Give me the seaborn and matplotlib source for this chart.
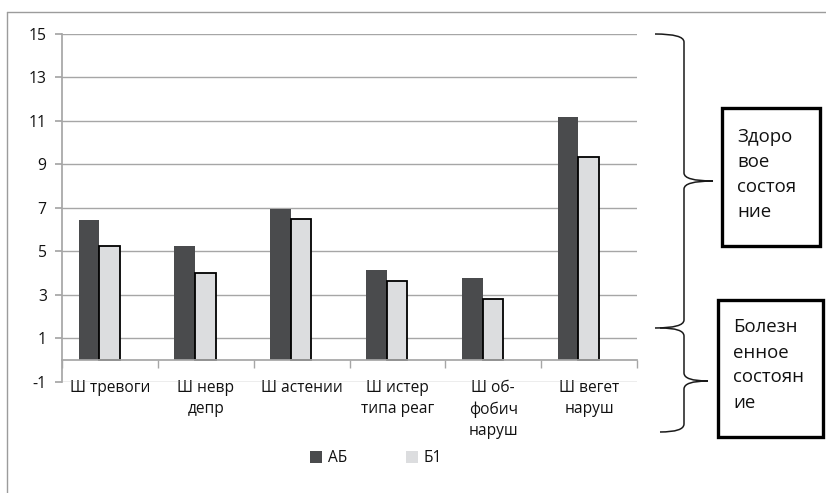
import matplotlib
matplotlib.use("Agg")
import matplotlib.pyplot as plt
from matplotlib.patches import PathPatch, Rectangle, Patch
from matplotlib.path import Path
from matplotlib.lines import Line2D
import numpy as np
import pandas as pd
import seaborn as sns

# --- data ---
categories = ["Ш тревоги", "Ш невр\nдепр", "Ш астении", "Ш истер\nтипа реаг",
              "Ш об-\nфобич\nнаруш", "Ш вегет\nнаруш"]
series_names = ["АБ", "Б1"]
vals_ab = [6.46, 5.24, 6.94, 4.13, 3.80, 11.19]
vals_b1 = [5.25, 4.01, 6.51, 3.63, 2.80, 9.32]
y_ticks = list(range(-1, 16, 2))
box_top_text = "Здоро\nвое\nсостоя\nние"
box_bottom_text = "Болезн\nенное\nсостоян\nие"

W, H = 826, 493
C_AB = "#4a4b4d"
C_B1 = "#dcdddf"
GRID = "#a6a6a6"
TXT = "#111111"

sns.set_theme(style="white")
plt.rcParams["font.family"] = ["Open Sans", "DejaVu Sans"]
plt.rcParams["axes.unicode_minus"] = False

df = pd.DataFrame({
    "cat": categories * 2,
    "val": vals_ab + vals_b1,
    "series": [series_names[0]] * 6 + [series_names[1]] * 6,
})

fig = plt.figure(figsize=(W / 100, H / 100), dpi=100)


def fx(x):
    return x / W


def fy(y):
    return 1 - y / H


ax = fig.add_axes([fx(62), fy(382), fx(637) - fx(62), fy(33.7) - fy(382)])

sns.barplot(data=df, x="cat", y="val", hue="series", order=categories,
            hue_order=series_names, palette=[C_AB, C_B1], width=0.43,
            errorbar=None, legend=False, saturation=1, ax=ax)

# bars sit left of category centre in the original
for p in ax.patches:
    p.set_x(p.get_x() - 0.112)
    fc = p.get_facecolor()
    if fc[0] > 0.5:
        p.set_edgecolor("black")
        p.set_linewidth(1.3)
    else:
        p.set_edgecolor("none")

ax.set_xlim(-0.5, 5.5)
ax.set_ylim(-1, 15)
ax.set_yticks(y_ticks)
ax.set_xlabel("")
ax.set_ylabel("")

# grid & spines
ax.yaxis.grid(True, color=GRID, linewidth=1)
ax.xaxis.grid(False)
ax.set_axisbelow(True)
for s in ["top", "right"]:
    ax.spines[s].set_visible(False)
ax.spines["left"].set_color(GRID)
ax.spines["bottom"].set_color(GRID)
ax.spines["bottom"].set_position(("data", 0))

ax.tick_params(axis="y", which="major", left=True, length=5, color=GRID,
               labelsize=11.3, labelcolor=TXT, pad=6)
ax.set_xticks(np.arange(-0.5, 6.0, 1.0), minor=True)
ax.tick_params(axis="x", which="minor", bottom=True, length=6, color=GRID,
               direction="out")
ax.tick_params(axis="x", which="major", length=0, labelsize=11.2,
               labelcolor=TXT, pad=14.5)
plt.setp(ax.get_xticklabels(), linespacing=1.42, va="top")

# legend
handles = [Patch(facecolor=C_AB, edgecolor="none"),
           Patch(facecolor=C_B1, edgecolor="none")]
leg = fig.legend(handles, series_names, loc="center", ncol=2,
                 bbox_to_anchor=(fx(376), fy(458)), frameon=False,
                 handlelength=0.8, handleheight=0.8, handletextpad=0.35,
                 columnspacing=3.8, prop={"size": 11.2})
for t in leg.get_texts():
    t.set_color(TXT)

# outer frame (cut at right/bottom in the original)
fig.add_artist(Line2D([fx(7), fx(826)], [fy(12), fy(12)], color="#9c9c9c",
                      lw=1, transform=fig.transFigure))
fig.add_artist(Line2D([fx(7), fx(7)], [fy(12), fy(493)], color="#9c9c9c",
                      lw=1, transform=fig.transFigure))


def brace(x_end, x_mid, x_tip, y0, ym, y1, r=8):
    pts = [(x_end, y0), (x_mid, y0), (x_mid, y0 + r),
           (x_mid, ym - r), (x_mid, ym), (x_tip, ym),
           (x_mid, ym), (x_mid, ym + r),
           (x_mid, y1 - r), (x_mid, y1), (x_end, y1)]
    codes = [Path.MOVETO, Path.CURVE3, Path.CURVE3,
             Path.LINETO, Path.CURVE3, Path.CURVE3,
             Path.CURVE3, Path.CURVE3,
             Path.LINETO, Path.CURVE3, Path.CURVE3]
    path = Path([(fx(x), fy(y)) for x, y in pts], codes)
    fig.add_artist(PathPatch(path, fill=False, edgecolor="#1a1a1a", lw=1.1,
                             transform=fig.transFigure))


brace(655, 684, 713, 34, 181, 328)
brace(660, 684, 708, 328, 381, 432)

# text boxes
for (x0, y0, x1, y1), txt, tx, ty in [((722, 108, 820, 246), box_top_text, 737, 174),
                                      ((718, 300, 823, 437), box_bottom_text, 733, 365)]:
    fig.add_artist(Rectangle((fx(x0), fy(y1)), fx(x1) - fx(x0), fy(y0) - fy(y1),
                             fill=False, edgecolor="black", lw=2.4,
                             transform=fig.transFigure))
    fig.text(fx(tx), fy(ty), txt, ha="left", va="center", fontsize=13.4,
             linespacing=1.5, color=TXT)

fig.savefig("out.png", dpi=100)
